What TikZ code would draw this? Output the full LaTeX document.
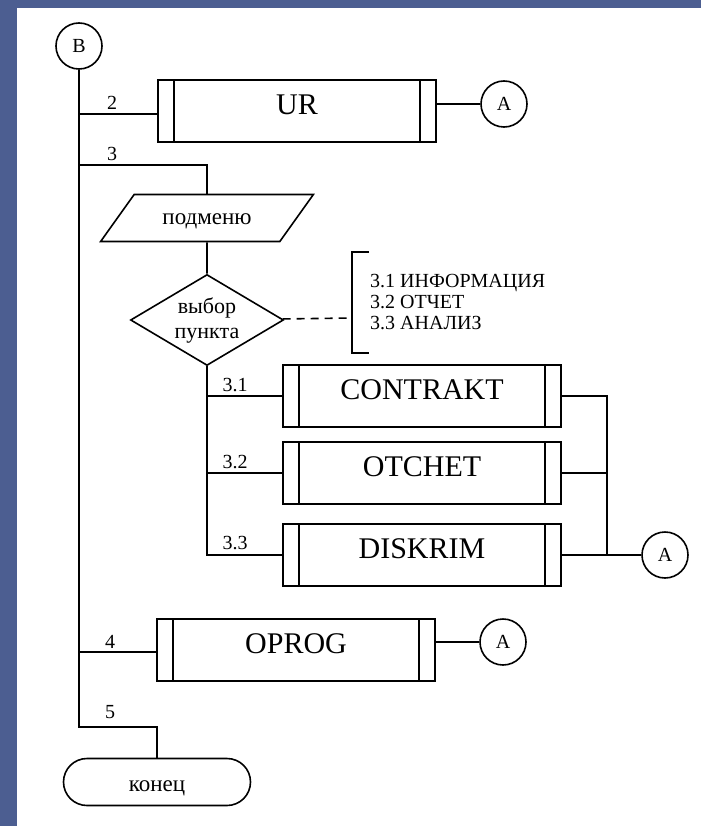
\documentclass[tikz,border=0pt]{standalone}
\usepackage{fontspec}
\setmainfont{Liberation Serif}
\usetikzlibrary{shapes.geometric}
\usetikzlibrary{shapes.misc}

\definecolor{bgblue}{RGB}{76,94,145}

\tikzset{
	line/.style={line width=1.6pt},
	subproc/.style={draw, line width=1.6pt, minimum width=278pt, minimum height=62pt, inner sep=0pt,
		text depth=12pt, font=\fontsize{30}{36}\selectfont,
		path picture={
			\draw[line width=1.6pt] ([xshift=16pt]path picture bounding box.north west) -- ([xshift=16pt]path picture bounding box.south west);
			\draw[line width=1.6pt] ([xshift=-16pt]path picture bounding box.north east) -- ([xshift=-16pt]path picture bounding box.south east);
		}},
	conn/.style={draw, circle, line width=1.6pt, minimum size=46pt, inner sep=0pt, font=\fontsize{20}{24}\selectfont},
	lbl/.style={inner sep=0pt, font=\fontsize{20}{24}\selectfont},
}

\begin{document}
\begin{tikzpicture}[x=1pt,y=-1pt]
	\fill[bgblue] (0,0) rectangle (701,826);
	\fill[white] (17,8) rectangle (701,826);

	\node[conn] (B) at (79,46) {B};

	\node[subproc] (UR) at (297,111) {UR};
	\node[conn] (A1) at (504,104) {A};

	\node[draw, line, trapezium, trapezium left angle=47, trapezium right angle=133, trapezium stretches=true,
		minimum width=213pt, minimum height=47pt, inner sep=0pt, text height=18pt, text depth=4pt,
		font=\fontsize{23}{26}\selectfont] (pod) at (207,218) {подменю};

	\node[draw, line, diamond, aspect=1.68, minimum width=153pt, minimum height=91pt, inner sep=0pt,
		align=center, font=\fontsize{22}{25}\selectfont] (vybor) at (207,320) {выбор\\пункта};

	% bracket with menu items
	\coordinate (br) at (352,318);
	\draw[line] (369,252) -- (352,252) -- (352,353) -- (369,353);
	\node[anchor=west, align=left, inner sep=0pt, font=\fontsize{20}{21}\selectfont] (menu) at (370,302)
		{3.1 ИНФОРМАЦИЯ\\3.2 ОТЧЕТ\\3.3 АНАЛИЗ};

	\node[subproc] (CONTRAKT) at (422,396) {CONTRAKT};
	\node[subproc] (OTCHET) at (422,473) {OTCHET};
	\node[subproc] (DISKRIM) at (422,555) {DISKRIM};
	\node[conn] (A2) at (665,555) {A};

	\node[subproc] (OPROG) at (296,650) {OPROG};
	\node[conn] (A3) at (503,642) {A};

	\node[draw, line, rounded rectangle, minimum width=187pt, minimum height=47pt, inner sep=0pt,
		text height=22pt, text depth=4pt, font=\fontsize{23}{26}\selectfont] (konec) at (157,782) {конец};

	\coordinate (j2) at (79,114);
	\coordinate (j3) at (79,165);
	\coordinate (j4) at (79,652);
	\coordinate (j5) at (79,727);
	\coordinate (bus) at (607,396);

	% main line
	\draw[line] (B) -- (j5) -- (j5 -| konec) -- (konec);
	\draw[line] (j2) -- (j2 -| UR.west);
	\draw[line] (A1 -| UR.east) -- (A1);
	\draw[line] (j3) -- (j3 -| pod) -- (pod);
	\draw[line] (pod) -- (vybor);
	\draw[line, dash pattern=on 8pt off 6pt] (vybor) -- (br);

	% submenu branches
	\draw[line] (vybor) -- (vybor |- DISKRIM) -- (DISKRIM);
	\draw[line] (vybor |- CONTRAKT) -- (CONTRAKT);
	\draw[line] (vybor |- OTCHET) -- (OTCHET);
	\draw[line] (CONTRAKT) -- (bus) -- (bus |- A2);
	\draw[line] (OTCHET) -- (OTCHET -| bus);
	\draw[line] (DISKRIM) -- (A2);

	\draw[line] (j4) -- (j4 -| OPROG.west);
	\draw[line] (A3 -| OPROG.east) -- (A3);

	\node[lbl] (l2) at (112,103) {2};
	\node[lbl] (l3) at (112,154) {3};
	\node[lbl] (l31) at (235,385) {3.1};
	\node[lbl] (l32) at (235,462) {3.2};
	\node[lbl] (l33) at (235,543) {3.3};
	\node[lbl] (l4) at (110,642) {4};
	\node[lbl] (l5) at (110,712) {5};

\end{tikzpicture}
\end{document}
